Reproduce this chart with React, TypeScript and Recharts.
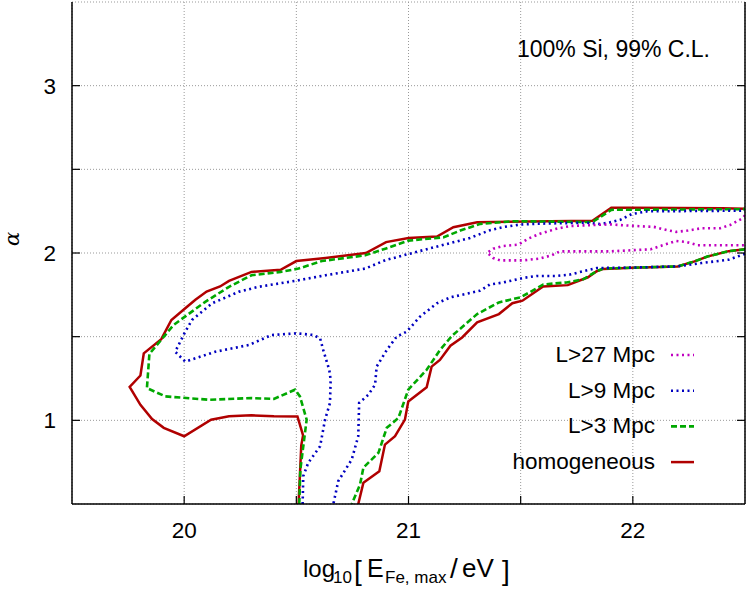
import React from 'react';
import { ComposedChart, Line, XAxis, YAxis, CartesianGrid } from 'recharts';

// ---- axis ticks ----
const X_TICKS = [20, 20.5, 21, 21.5, 22];
const Y_TICKS = [1, 1.5, 2, 2.5, 3];
const X_LABELS = [20, 21, 22];
const Y_LABELS = [1, 2, 3];
const X_DOMAIN: [number, number] = [19.5, 22.5];
const Y_DOMAIN: [number, number] = [0.5, 3.5];

// ---- contour data (log10 E, alpha) ----
const homogeneousA: [number, number][] = [
  [20.51, 0.5], [20.522, 0.85], [20.53, 0.91], [20.505, 1.023], [20.4, 1.024], [20.3, 1.03],
  [20.2, 1.024], [20.12, 1.004], [20.0, 0.905], [19.909, 0.955], [19.857, 1.008], [19.805, 1.093],
  [19.757, 1.2], [19.805, 1.268], [19.82, 1.4], [19.898, 1.485], [19.943, 1.6], [20.005, 1.67],
  [20.05, 1.72], [20.1, 1.77], [20.16, 1.8], [20.2, 1.833], [20.3, 1.887], [20.43, 1.9],
  [20.5, 1.952], [20.63, 1.97], [20.81, 2.0], [20.9, 2.065], [21.0, 2.09], [21.127, 2.098],
  [21.2, 2.154], [21.306, 2.184], [21.82, 2.193], [21.904, 2.27], [21.993, 2.27], [22.397, 2.268],
  [22.5, 2.264],
];
const homogeneousB: [number, number][] = [
  [22.5, 2.022], [22.427, 2.011], [22.335, 1.98], [22.275, 1.95], [22.2, 1.92], [22.0, 1.912],
  [21.868, 1.905], [21.839, 1.891], [21.8, 1.855], [21.71, 1.808], [21.6, 1.8], [21.508, 1.715],
  [21.463, 1.7], [21.403, 1.635], [21.306, 1.585], [21.239, 1.495], [21.187, 1.446], [21.14, 1.361],
  [21.103, 1.321], [21.081, 1.198], [20.999, 1.113], [20.984, 1.004], [20.94, 0.905], [20.895, 0.855],
  [20.87, 0.696], [20.799, 0.627], [20.776, 0.5],
];
const l3A: [number, number][] = [
  [20.513, 0.5], [20.518, 0.707], [20.531, 0.845], [20.546, 1.004], [20.516, 1.143], [20.494, 1.183],
  [20.4, 1.128], [20.3, 1.133], [20.11, 1.123], [19.916, 1.143], [19.834, 1.193], [19.845, 1.397],
  [19.9, 1.485], [19.953, 1.57], [20.013, 1.629], [20.094, 1.708], [20.2, 1.798], [20.3, 1.867],
  [20.43, 1.887], [20.51, 1.907], [20.614, 1.952], [20.807, 1.986], [20.897, 2.026], [21.0, 2.074],
  [21.157, 2.094], [21.231, 2.134], [21.32, 2.174], [21.47, 2.19], [21.82, 2.185], [21.904, 2.258],
  [22.5, 2.262],
];
const l3B: [number, number][] = [
  [22.5, 2.022], [22.427, 2.011], [22.335, 1.98], [22.275, 1.95], [22.2, 1.92], [21.868, 1.907],
  [21.839, 1.891], [21.779, 1.843], [21.705, 1.824], [21.601, 1.812], [21.5, 1.735], [21.403, 1.705],
  [21.306, 1.635], [21.194, 1.505], [21.14, 1.42], [21.081, 1.302], [20.999, 1.183], [20.955, 1.014],
  [20.903, 0.955], [20.866, 0.806], [20.799, 0.717], [20.784, 0.617], [20.747, 0.5],
];
const l9A: [number, number][] = [
  [20.528, 0.5], [20.531, 0.667], [20.553, 0.746], [20.606, 0.845], [20.628, 1.004], [20.65, 1.104],
  [20.653, 1.242], [20.647, 1.3], [20.62, 1.42], [20.606, 1.49], [20.576, 1.51], [20.502, 1.52],
  [20.39, 1.51], [20.288, 1.45], [20.139, 1.41], [20.005, 1.351], [19.96, 1.41], [20.005, 1.53],
  [20.035, 1.6], [20.124, 1.699], [20.243, 1.768], [20.332, 1.798], [20.51, 1.837], [20.63, 1.867],
  [20.807, 1.907], [20.897, 1.957], [21.0, 1.994], [21.171, 2.054], [21.274, 2.09], [21.363, 2.136],
  [21.423, 2.155], [21.497, 2.17], [21.571, 2.175], [21.794, 2.181], [21.854, 2.173], [21.898, 2.183],
  [21.944, 2.198], [21.996, 2.233], [22.065, 2.249], [22.5, 2.253],
];
const l9B: [number, number][] = [
  [22.5, 1.995], [22.427, 1.96], [22.306, 1.94], [22.2, 1.92], [22.0, 1.913], [21.839, 1.91],
  [21.779, 1.891], [21.72, 1.871], [21.66, 1.863], [21.571, 1.863], [21.512, 1.851], [21.423, 1.824],
  [21.363, 1.812], [21.32, 1.775], [21.187, 1.735], [21.126, 1.699], [21.051, 1.619], [20.992, 1.53],
  [20.947, 1.5], [20.903, 1.42], [20.858, 1.321], [20.851, 1.213], [20.821, 1.153], [20.78, 1.104],
  [20.776, 0.905], [20.747, 0.766], [20.687, 0.637], [20.665, 0.5],
];
const l27A: [number, number][] = [
  [22.5, 2.225], [22.487, 2.206], [22.433, 2.167], [22.389, 2.148], [22.306, 2.148], [22.245, 2.134],
  [22.193, 2.126], [22.155, 2.136], [22.094, 2.156], [22.004, 2.162], [21.898, 2.171], [21.779, 2.165],
  [21.72, 2.161], [21.66, 2.145], [21.586, 2.115], [21.534, 2.086], [21.49, 2.05], [21.423, 2.042],
  [21.378, 2.026], [21.351, 2.002], [21.378, 1.97], [21.408, 1.956], [21.512, 1.956], [21.586, 1.967],
  [21.638, 1.986], [21.675, 2.01], [21.898, 2.01], [22.08, 2.022], [22.132, 2.046], [22.193, 2.072],
  [22.237, 2.066], [22.29, 2.046], [22.5, 2.046],
];

const SERIES = [
  { name: 'homogeneous', color: '#b00000', width: 2.5, dash: undefined as string | undefined, parts: [homogeneousA, homogeneousB] },
  { name: 'L>3 Mpc', color: '#00a800', width: 2.6, dash: '6 3', parts: [l3A, l3B] },
  { name: 'L>9 Mpc', color: '#0000c0', width: 2.6, dash: '2 3.5', parts: [l9A, l9B] },
  { name: 'L>27 Mpc', color: '#c000c0', width: 2.6, dash: '2 3.5', parts: [l27A] },
];
const LEGEND_ORDER = ['L>27 Mpc', 'L>9 Mpc', 'L>3 Mpc', 'homogeneous'];

const W = 747;
const H = 589;
const FONT = '"Liberation Sans", Arial, Helvetica, sans-serif';
const TICK_LEN = 8;

const toPts = (arr: [number, number][]) => arr.map(([x, y]) => ({ x, y }));

const BottomTick = (props: any) => {
  const { x, y, payload } = props;
  const v = payload.value;
  return (
    <g>
      <line x1={x} x2={x} y1={y} y2={y - TICK_LEN} stroke="#000" strokeWidth={1.2} />
      {X_LABELS.includes(v) && (
        <text x={x} y={y + 34} textAnchor="middle" fontFamily={FONT} fontSize={22.5} fill="#000">{v}</text>
      )}
    </g>
  );
};
const TopTick = (props: any) => {
  const { x, y } = props;
  return <line x1={x} x2={x} y1={y} y2={y + TICK_LEN} stroke="#000" strokeWidth={1.2} />;
};
const LeftTick = (props: any) => {
  const { x, y, payload } = props;
  const v = payload.value;
  return (
    <g>
      <line x1={x} x2={x + TICK_LEN} y1={y} y2={y} stroke="#000" strokeWidth={1.2} />
      {Y_LABELS.includes(v) && (
        <text x={x - 16} y={y + 8} textAnchor="end" fontFamily={FONT} fontSize={22.5} fill="#000">{v}</text>
      )}
    </g>
  );
};
const RightTick = (props: any) => {
  const { x, y } = props;
  return <line x1={x} x2={x - TICK_LEN} y1={y} y2={y} stroke="#000" strokeWidth={1.2} />;
};

export default function App() {
  const legendRows = LEGEND_ORDER.map((n) => SERIES.find((s) => s.name === n)!);
  return (
    <div style={{ position: 'absolute', left: 0, top: 0, width: W, height: H, background: '#fff' }}>
      <ComposedChart width={W} height={H} margin={{ top: 2, right: 0, bottom: 0, left: 0 }}>
        <CartesianGrid stroke="#999" strokeDasharray="1 2" strokeWidth={1} />
        <XAxis
          xAxisId={0}
          dataKey="x"
          type="number"
          domain={X_DOMAIN}
          ticks={X_TICKS}
          interval={0}
          allowDataOverflow
          height={85}
          tickLine={false}
          tickSize={0}
          tickMargin={0}
          tick={<BottomTick />}
          axisLine={{ stroke: '#000', strokeWidth: 1.5 }}
        />
        <XAxis
          xAxisId="top"
          orientation="top"
          type="number"
          domain={X_DOMAIN}
          ticks={X_TICKS}
          interval={0}
          allowDataOverflow
          height={0}
          tickLine={false}
          tickSize={0}
          tickMargin={0}
          tick={<TopTick />}
          axisLine={{ stroke: '#000', strokeWidth: 1.5 }}
        />
        <YAxis
          yAxisId={0}
          type="number"
          domain={Y_DOMAIN}
          ticks={Y_TICKS}
          interval={0}
          allowDataOverflow
          width={72}
          tickLine={false}
          tickSize={0}
          tickMargin={0}
          tick={<LeftTick />}
          axisLine={{ stroke: '#000', strokeWidth: 1.5 }}
        />
        <YAxis
          yAxisId="right"
          orientation="right"
          type="number"
          domain={Y_DOMAIN}
          ticks={Y_TICKS}
          interval={0}
          allowDataOverflow
          width={2}
          tickLine={false}
          tickSize={0}
          tickMargin={0}
          tick={<RightTick />}
          axisLine={{ stroke: '#000', strokeWidth: 1.5 }}
        />
        {SERIES.map((s) =>
          s.parts.map((p, i) => (
            <Line
              key={s.name + i}
              xAxisId={0}
              yAxisId={0}
              data={toPts(p)}
              dataKey="y"
              type="linear"
              stroke={s.color}
              strokeWidth={s.width}
              strokeDasharray={s.dash}
              dot={false}
              activeDot={false}
              legendType="none"
              isAnimationActive={false}
            />
          ))
        )}
      </ComposedChart>
      <svg width={W} height={H} style={{ position: 'absolute', left: 0, top: 0, pointerEvents: 'none' }}>
        <text x={710} y={57} textAnchor="end" fontFamily={FONT} fontSize={23} fill="#000">100% Si, 99% C.L.</text>
        {legendRows.map((s, i) => {
          const base = 362 + i * 35.7;
          return (
            <g key={s.name}>
              <text x={655} y={base} textAnchor="end" fontFamily={FONT} fontSize={22.5} fill="#000">{s.name}</text>
              <line x1={671} x2={694} y1={base - 7} y2={base - 7} stroke={s.color} strokeWidth={s.width} strokeDasharray={s.dash} />
            </g>
          );
        })}
        <text
          transform="translate(12,239) rotate(-90)"
          textAnchor="middle"
          dominantBaseline="central"
          fontFamily='"DejaVu Serif", serif'
          fontStyle="italic"
          fontSize={21}
          fill="#000"
        >α</text>
        <text y={577} fontFamily={FONT} fill="#000" fontSize={24}>
          <tspan x={303}>log</tspan>
          <tspan x={333} y={583} fontSize={17}>10</tspan>
          <tspan x={354} y={580} fontSize={28} fontWeight={300}>[</tspan>
          <tspan x={367} y={577} fontSize={25}>E</tspan>
          <tspan x={385} y={583} fontSize={17}>Fe, max</tspan>
          <tspan x={450} y={578} fontSize={28} fontWeight={300}>/</tspan>
          <tspan x={462} y={577} fontSize={26}>eV</tspan>
          <tspan x={502} y={580} fontSize={28} fontWeight={300}>]</tspan>
        </text>
      </svg>
    </div>
  );
}
